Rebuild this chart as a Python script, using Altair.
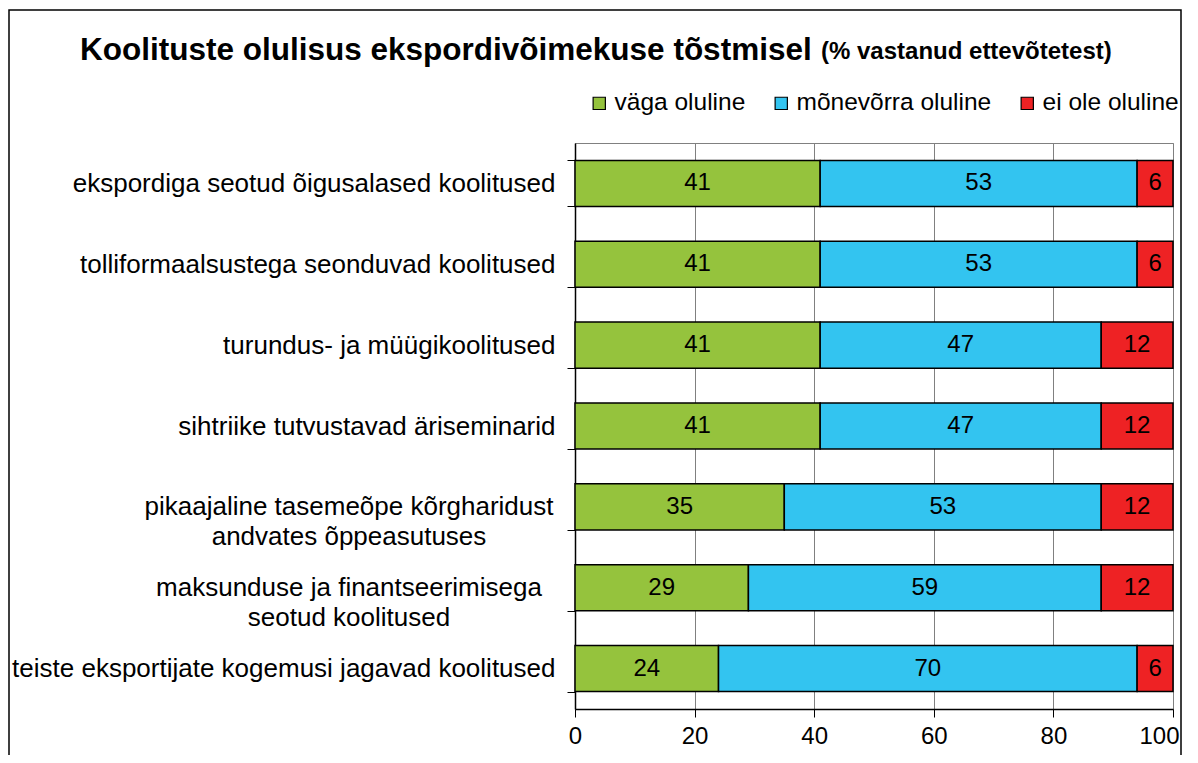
import altair as alt
import pandas as pd

categories = [
    "ekspordiga seotud õigusalased koolitused",
    "tolliformaalsustega seonduvad koolitused",
    "turundus- ja müügikoolitused",
    "sihtriike tutvustavad äriseminarid",
    "pikaajaline tasemeõpe kõrgharidust|andvates õppeasutuses",
    "maksunduse ja finantseerimisega|seotud koolitused",
    "teiste eksportijate kogemusi jagavad koolitused",
]
series = ["väga oluline", "mõnevõrra oluline", "ei ole oluline"]
vaga = [41, 41, 41, 41, 35, 29, 24]
monevorra = [53, 53, 47, 47, 53, 59, 70]
ei_ole = [6, 6, 12, 12, 12, 12, 6]
colors = ["#95C33D", "#33C4F0", "#EE2224"]
x_ticks = [0, 20, 40, 60, 80, 100]
title_main = "Koolituste olulisus ekspordivõimekuse tõstmisel"
title_sub = "(% vastanud ettevõtetest)"

FONT = "Liberation Sans"

rows = []
for i, c in enumerate(categories):
    for j, (s, vals) in enumerate(zip(series, [vaga, monevorra, ei_ole])):
        rows.append({"category": c, "series": s, "order": j, "value": vals[i]})
df = pd.DataFrame(rows)

y_enc = alt.Y(
    "category:N",
    sort=categories,
    scale=alt.Scale(paddingInner=0.43, paddingOuter=0.215),
    axis=alt.Axis(
        title=None,
        labelExpr="indexof(datum.label, '|') >= 0 ? '' : datum.label",
        labelFontSize=26,
        labelFont=FONT,
        labelColor="black",
        labelPadding=12,
        labelLimit=0,
        tickBand="extent",
        tickSize=8,
        tickColor="black",
        tickWidth=1,
        domainColor="black",
        domainWidth=1.5,
        grid=False,
    ),
)

x_axis = alt.Axis(
    values=x_ticks,
    title=None,
    grid=True,
    gridColor="#808080",
    gridWidth=1,
    tickSize=8,
    tickColor="black",
    domainColor="black",
    domainWidth=1.5,
    labelFontSize=24,
    labelFont=FONT,
    labelColor="black",
    labelPadding=7,
    labelFlush=False,
    labelOffset={"condition": {"test": "datum.value == 100", "value": -14}, "value": 0},
)

base = alt.Chart(df).transform_stack(
    stack="value",
    as_=["x0", "x1"],
    groupby=["category"],
    sort=[alt.SortField("order", order="ascending")],
)

bars = base.mark_bar(stroke="black", strokeWidth=1.5).encode(
    x=alt.X("x0:Q", scale=alt.Scale(domain=[0, 100], nice=False), axis=x_axis),
    x2="x1:Q",
    y=y_enc,
    color=alt.Color(
        "series:N",
        scale=alt.Scale(domain=series, range=colors),
        legend=alt.Legend(
            title=None,
            orient="none",
            legendX=12,
            legendY=-52,
            direction="horizontal",
            symbolType="square",
            symbolSize=150,
            symbolStrokeColor="black",
            symbolStrokeWidth=1.2,
            labelFontSize=24.5,
            labelFont=FONT,
            labelColor="black",
            columnPadding=23,
            labelOffset=3,
            labelLimit=0,
        ),
    ),
)

labels = base.transform_calculate(mid="(datum.x0 + datum.x1) / 2").mark_text(
    fontSize=24, font=FONT, color="black", baseline="middle", align="center"
).encode(
    x=alt.X("mid:Q", scale=alt.Scale(domain=[0, 100], nice=False), axis=x_axis),
    y=y_enc,
    text="value:Q",
)

multi_df = pd.DataFrame({"category": [c for c in categories if "|" in c]})
multi_labels = alt.Chart(multi_df).mark_text(
    align="center", baseline="middle", lineBreak="|", lineHeight=30,
    fontSize=26, font=FONT, color="black",
).encode(
    y=y_enc,
    x=alt.value(-226),
    text="category:N",
)

t1 = alt.Chart(pd.DataFrame({"t": [title_main]})).mark_text(
    align="left", baseline="alphabetic", fontSize=31.5, fontWeight="bold",
    font=FONT, color="black",
).encode(x=alt.value(-495), y=alt.value(-83), text="t:N")

t2 = alt.Chart(pd.DataFrame({"t": [title_sub]})).mark_text(
    align="left", baseline="alphabetic", fontSize=24, fontWeight="bold",
    font=FONT, color="black",
).encode(x=alt.value(246), y=alt.value(-84), text="t:N")

frame = alt.Chart(pd.DataFrame({"f": [1]})).mark_rect(
    fillOpacity=0, stroke="black", strokeWidth=1.5
).encode(
    x=alt.value(-566), x2=alt.value(606), y=alt.value(-133), y2=alt.value(720)
)

chart = alt.layer(frame, bars, labels, multi_labels, t1, t2).properties(
    width=598,
    height=566,
    autosize=alt.AutoSizeParams(type="none"),
    padding={"left": 567, "top": 135, "right": 9, "bottom": 46},
    background="white",
).configure_view(stroke="#808080", strokeWidth=1).configure_text(font=FONT)

chart.save("out.html", embed_options={"renderer": "svg", "actions": False})
